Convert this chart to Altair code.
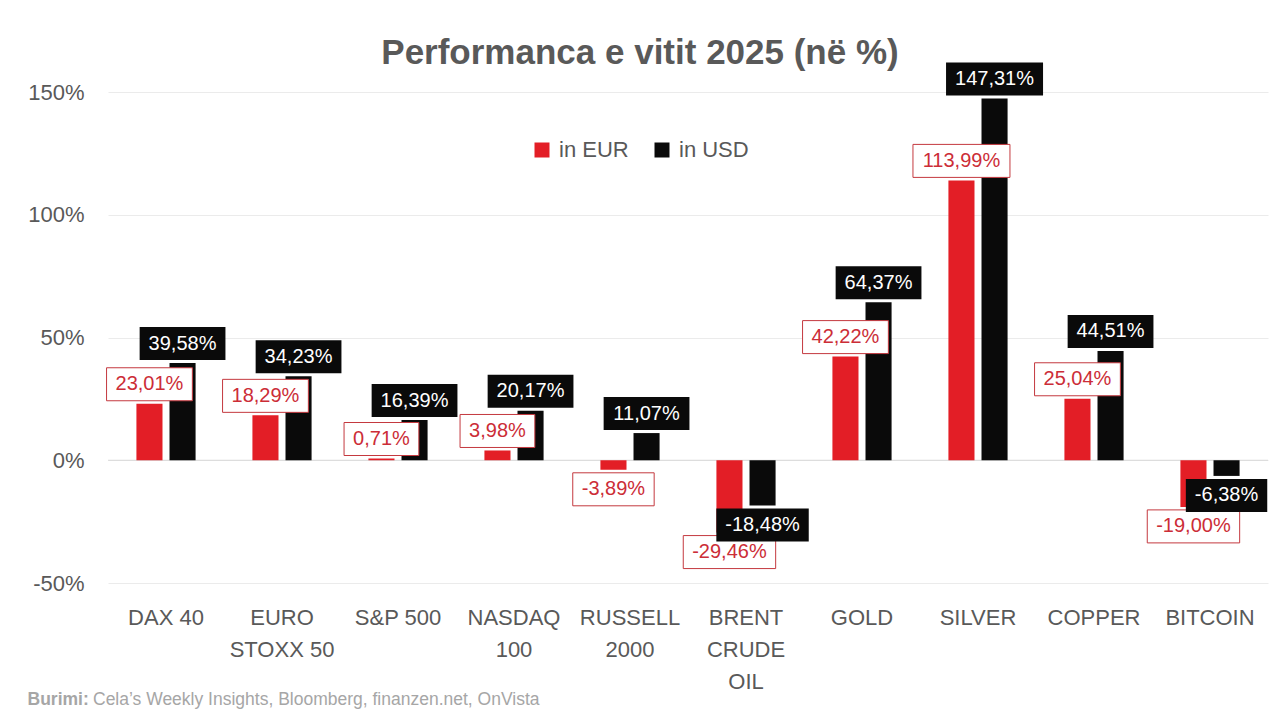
import altair as alt
import pandas as pd

categories = ["DAX 40", "EURO\nSTOXX 50", "S&P 500", "NASDAQ\n100", "RUSSELL\n2000",
              "BRENT\nCRUDE\nOIL", "GOLD", "SILVER", "COPPER", "BITCOIN"]
eur = [23.01, 18.29, 0.71, 3.98, -3.89, -29.46, 42.22, 113.99, 25.04, -19.00]
usd = [39.58, 34.23, 16.39, 20.17, 11.07, -18.48, 64.37, 147.31, 44.51, -6.38]
series = ["in EUR", "in USD"]
y_ticks = [-50, 0, 50, 100, 150]

TITLE = "Performanca e vitit 2025 (në %)"
SRC_BOLD = "Burimi:"
SRC_TEXT = "Cela’s Weekly Insights, Bloomberg, finanzen.net, OnVista"

RED = "#E31E26"
BLACK = "#0A0A0A"
RED_TXT = "#CC2D37"
RED_BOX = "#C4393F"
GRAY = "#595959"
FONT = "Liberation Sans"
LFS = 20  # label font size

# approximate glyph widths (Arial metrics) to size label boxes
W = {",": 0.278, "%": 0.889, "-": 0.333}


def text_w(s):
    return sum(W.get(c, 0.556) for c in s) * LFS


rows = []
for ci, c in enumerate(categories):
    for s, vals in zip(series, [eur, usd]):
        v = vals[ci]
        lab = f"{v:.2f}".replace(".", ",") + "%"
        bw = text_w(lab) + 18
        hw = bw / 2
        if v >= 0:
            path = f"M{-hw:.1f},-36H{hw:.1f}V-3H{-hw:.1f}Z"
        else:
            path = f"M{-hw:.1f},3H{hw:.1f}V36H{-hw:.1f}Z"
        rows.append({"cat": c, "series": s, "value": v, "label": lab, "box": path,
                     "tcolor": RED_TXT if s == "in EUR" else "white"})
df = pd.DataFrame(rows)

x_enc = alt.X("cat:N", sort=categories, title=None,
              scale=alt.Scale(paddingInner=0.49, paddingOuter=0.245),
              axis=alt.Axis(labelExpr="split(datum.label, '\\n')", labelFontSize=22,
                            labelColor=GRAY, labelFont=FONT, labelLineHeight=32,
                            labelPadding=24, domain=False, ticks=False, labelAngle=0,
                            labelBaseline="top"))
xo_enc = alt.XOffset("series:N", sort=series,
                     scale=alt.Scale(paddingInner=0.212, paddingOuter=0))
y_enc = alt.Y("value:Q", title=None,
              scale=alt.Scale(domain=[-50, 150], nice=False),
              axis=alt.Axis(values=y_ticks, labelExpr="datum.value + '%'", labelFontSize=22,
                            labelColor=GRAY, labelFont=FONT, labelPadding=24,
                            domain=False, ticks=False, gridColor="#EBEBEB", gridWidth=1))

base = alt.Chart(df)

bars = base.mark_bar().encode(
    x=x_enc, xOffset=xo_enc, y=y_enc,
    color=alt.Color("series:N", sort=series,
                    scale=alt.Scale(domain=series, range=[RED, BLACK]),
                    legend=alt.Legend(orient="none", legendX=423, legendY=47,
                                      direction="horizontal", title=None,
                                      labelFontSize=22, labelColor=GRAY, labelFont=FONT,
                                      symbolType="square", symbolSize=225,
                                      symbolStrokeWidth=0, columnPadding=22,
                                      labelOffset=6)))

zero = alt.Chart(pd.DataFrame({"z": [0]})).mark_rule(color="#D9D9D9", strokeWidth=1).encode(
    y=alt.Y("z:Q", scale=alt.Scale(domain=[-50, 150], nice=False)))

layers = [zero, bars]
for s in series:
    sub = base.transform_filter(alt.datum.series == s)
    if s == "in EUR":
        box = sub.mark_point(filled=True, fill="white", stroke=RED_BOX, strokeWidth=1,
                             size=4, opacity=1)
    else:
        box = sub.mark_point(filled=True, fill=BLACK, strokeWidth=0, size=4, opacity=1)
    layers.append(box.encode(x=x_enc, xOffset=xo_enc, y=y_enc,
                             shape=alt.Shape("box:N", scale=None)))
    for cond, dy in [(alt.datum.value >= 0, -19.5), (alt.datum.value < 0, 19.5)]:
        t = sub.transform_filter(cond).mark_text(
            fontSize=LFS, font=FONT, baseline="middle", align="center", dy=dy
        ).encode(x=x_enc, xOffset=xo_enc, y=y_enc, text="label:N",
                 color=alt.Color("tcolor:N", scale=None))
        layers.append(t)

ann = pd.DataFrame({"t": [TITLE]})
title = alt.Chart(ann).mark_text(fontSize=35, font=FONT, fontWeight="bold", color=GRAY,
                                 align="center", baseline="middle").encode(
    text="t:N", x=alt.value(532), y=alt.value(-39))
src1 = alt.Chart(pd.DataFrame({"t": [SRC_BOLD]})).mark_text(
    fontSize=17.5, font=FONT, fontWeight="bold", color="#A6A6A6", align="left",
    baseline="middle").encode(text="t:N", x=alt.value(-80.5), y=alt.value(608))
src2 = alt.Chart(pd.DataFrame({"t": [SRC_TEXT]})).mark_text(
    fontSize=17.5, font=FONT, color="#A6A6A6", align="left",
    baseline="middle").encode(text="t:N", x=alt.value(-15), y=alt.value(608))

chart = alt.layer(*layers, title, src1, src2).properties(
    width=1160, height=491,
    padding={"left": 100, "top": 84, "right": 4, "bottom": 128},
    autosize=alt.AutoSizeParams(type="none"),
    background="white",
).configure_view(stroke=None)

chart.save("out.html", embed_options={"renderer": "svg", "actions": False})
